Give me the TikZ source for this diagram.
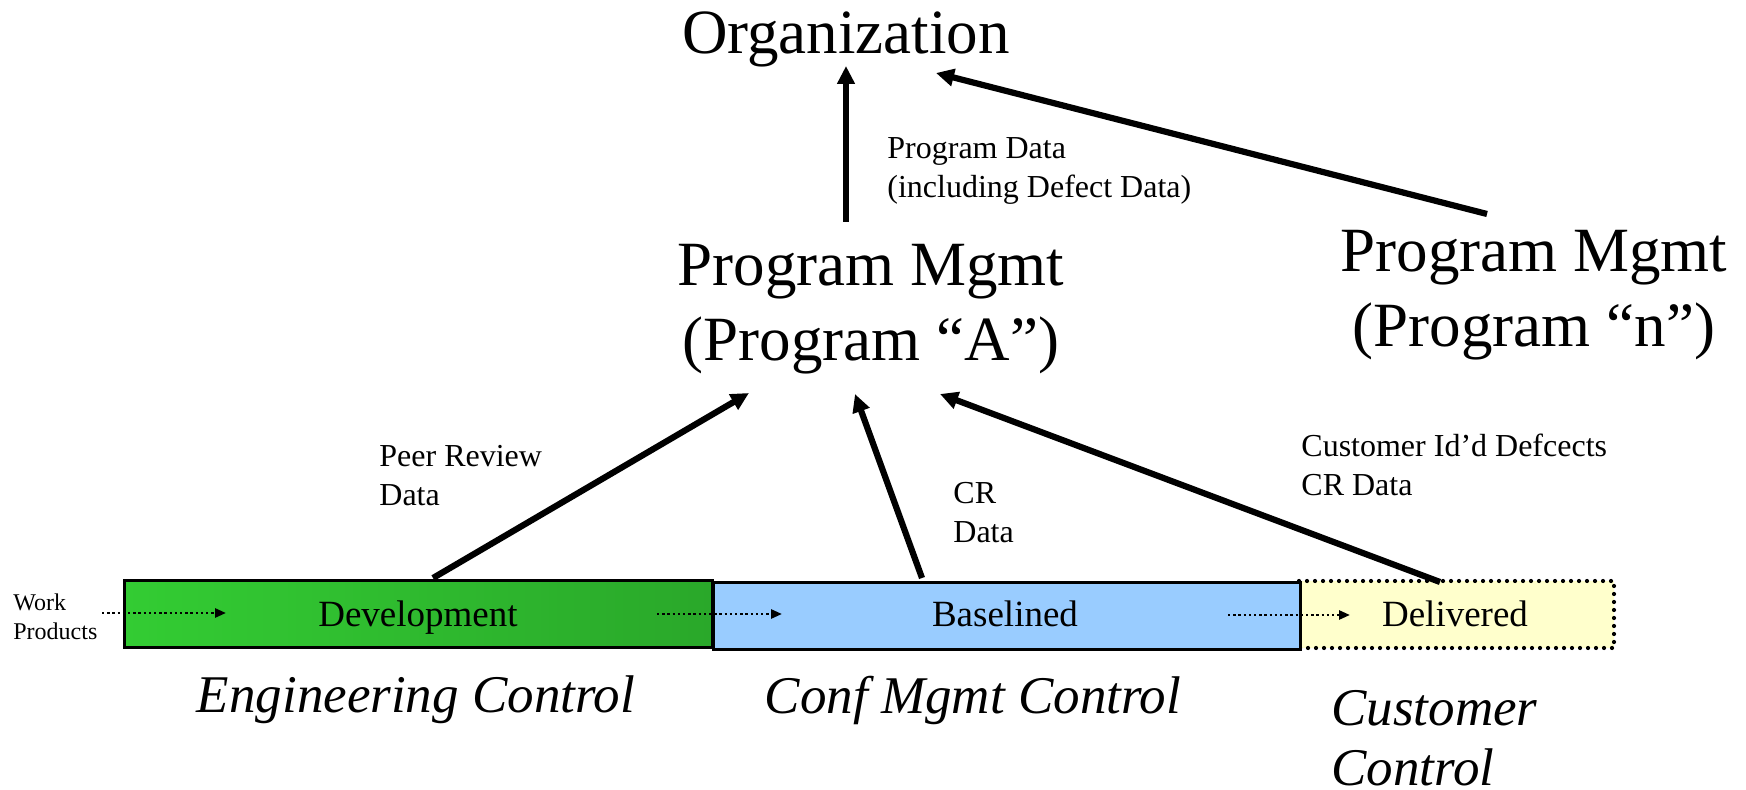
\documentclass[tikz,border=0pt]{standalone}
\usepackage{fontspec}
\setmainfont{Liberation Serif}
\usetikzlibrary{arrows.meta}
\definecolor{devL}{RGB}{51,204,51}
\definecolor{devR}{RGB}{42,168,42}
\definecolor{baseC}{RGB}{153,204,255}
\definecolor{delC}{RGB}{255,255,204}
\begin{document}
\begin{tikzpicture}[x=0.5pt,y=-0.5pt,
  big/.style={font=\fontsize{31.5}{37.5}\selectfont, align=center, inner sep=0pt},
  lbl/.style={font=\fontsize{16}{19.5}\selectfont, align=left, inner sep=0pt, anchor=west},
  ctl/.style={font=\fontsize{26.5}{30}\selectfont\itshape, inner sep=0pt},
  bar/.style={draw=black, line width=1.5pt, inner sep=0pt},
  barlbl/.style={font=\fontsize{18.5}{22}\selectfont, inner sep=0pt, anchor=base},
  fat/.style={line width=3.1pt, -{Triangle[length=9pt,width=8.5pt]}},
  dotarrow/.style={line width=1.3pt, dash pattern=on 1.2pt off 1.4pt, -{Triangle[length=5.5pt,width=4.5pt]}}
]
\useasboundingbox (0,0) rectangle (1746,790);

% top nodes
\node[big] (org) at (846,39) {Organization};
\node[big] (pa) at (871,309) {Program Mgmt\\(Program “A”)};
\node[big] (pn) at (1534,295) {Program Mgmt\\(Program “n”)};

% bars
\path[fill=delC] (1299,581) rectangle (1614,648);
\draw[line width=2.1pt, line cap=round, dash pattern=on 0pt off 4pt] (1299,581) -- (1614,581) -- (1614,648) -- (1299,648);
\path[bar, left color=devL, right color=devR] (124,581) rectangle (712,648);
\node[bar, fill=baseC, minimum width=293.5pt, minimum height=33.5pt, anchor=north west] (base) at (712,581) {};
\node[minimum width=294pt, minimum height=33.5pt, anchor=north west, inner sep=0pt] (dev) at (124,581) {};
\node[minimum width=157.5pt, minimum height=33.5pt, anchor=north west, inner sep=0pt] (del) at (1299,581) {};

\node[barlbl] (devt) at (418,627) {Development};
\node[barlbl] (baset) at (1005,627) {Baselined};
\node[barlbl] (delt) at (1455,627) {Delivered};

% work products
\node[font=\fontsize{12}{14.5}\selectfont, align=left, inner sep=0pt, anchor=west] (wp) at (13,617) {Work\\Products};

\coordinate (d1s) at (102,613);
\coordinate (d1e) at (226,613);
\coordinate (d2s) at (657,614);
\coordinate (d2e) at (782,614);
\coordinate (d3s) at (1228,615);
\coordinate (d3e) at (1350,615);
\draw[dotarrow] (d1s) -- (d1e);
\draw[dotarrow] (d2s) -- (d2e);
\draw[dotarrow] (d3s) -- (d3e);

% arrows to program mgmt A
\coordinate (devtop) at (433,578);
\coordinate (pa1) at (749,393);
\coordinate (basetop) at (922,578);
\coordinate (pa2) at (855,394);
\coordinate (deltop) at (1440,582);
\coordinate (pa3) at (940,394);
\draw[fat] (devtop) -- (pa1);
\draw[fat] (basetop) -- (pa2);
\draw[fat] (deltop) -- (pa3);

% arrows to organization
\coordinate (patop) at (846,222);
\coordinate (org1) at (846,66);
\coordinate (pntop) at (1487,214);
\coordinate (org2) at (936,73);
\draw[fat] (patop) -- (org1);
\draw[fat] (pntop) -- (org2);

% labels
\node[lbl] (l1) at (887,171) {Program Data\\(including Defect Data)};
\node[lbl] (l2) at (379,476) {Peer Review\\Data};
\node[lbl] (l3) at (953,513) {CR\\Data};
\node[lbl] (l4) at (1301,465) {Customer Id’d Defcects\\CR Data};

% control labels
\node[ctl] (c1) at (416,700) {Engineering Control};
\node[ctl] (c2) at (973,700) {Conf Mgmt Control};
\node[ctl, align=left, anchor=west] (c3) at (1331,738) {Customer\\Control};
\end{tikzpicture}
\end{document}
